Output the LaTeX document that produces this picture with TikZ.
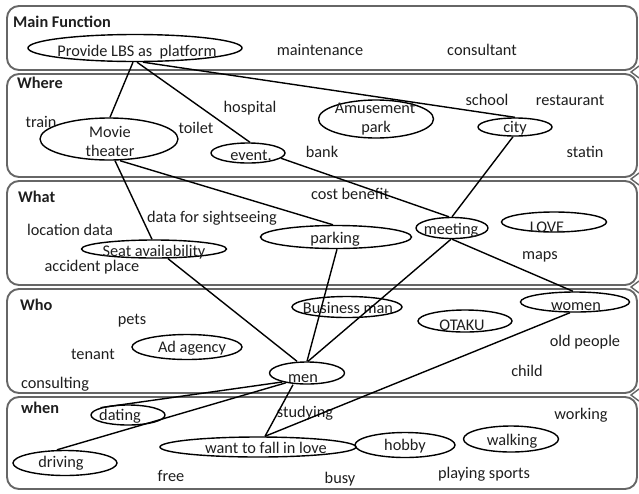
\documentclass[tikz,border=0pt]{standalone}
\usepackage{fontspec}
\setmainfont{Carlito}
\usetikzlibrary{shapes.geometric}
\definecolor{ink}{HTML}{1E1E1E}
\definecolor{frame}{HTML}{666666}

\begin{document}
\begin{tikzpicture}[x=1pt,y=-1pt,
  every node/.style={font=\fontsize{16.3}{19}\selectfont, text=ink},
  word/.style={inner sep=0pt, text height=10pt, text depth=2pt},
  head/.style={word, font=\fontsize{16.3}{19}\selectfont\bfseries, anchor=west},
  oval/.style 2 args={draw=black, ellipse, line width=1.4pt, inner sep=0pt,
    minimum width=#1, minimum height=#2},
  link/.style={line width=1.4pt, draw=black},
  panel/.style={draw=frame, line width=1.9pt, rounded corners=12pt},
  notch/.style={draw=frame, line width=1.4pt}]

\useasboundingbox (0,0) rectangle (639,493);

% five stacked category panels
\draw[panel] (7,6)   rectangle (637,70);
\draw[panel] (7,74)  rectangle (637,177);
\draw[panel] (7,181) rectangle (637,285);
\draw[panel] (7,289) rectangle (637,393);
\draw[panel] (7,397) rectangle (637,489);
\foreach \j in {72,179,287,395}
  \draw[notch] (639,\j-6) -- (631,\j) -- (639,\j+6);

% panel headings
\node[head] (hmain) at (13,23)  {Main Function};
\node[head] (hwhere) at (17,84) {Where};
\node[head] (hwhat) at (18,198) {What};
\node[head] (hwho) at (20,306)  {Who};
\node[head] (hwhen) at (21,409) {when};

% ellipses
\node[oval={214pt}{27pt}] (lbs) at (135,48) {};
\node[oval={138pt}{42pt}] (movie) at (109,139) {};
\node[oval={74pt}{20pt}] (event) at (248,153) {};
\node[oval={115pt}{38pt}] (amuse) at (376,119) {};
\node[oval={74pt}{18pt}] (city) at (515,127) {};
\node[oval={145pt}{18pt}] (seat) at (154,249) {};
\node[oval={151pt}{23pt}] (parking) at (336,237) {};
\node[oval={72pt}{21pt}] (meeting) at (452,228) {};
\node[oval={105pt}{20pt}] (love) at (554,222) {};
\node[oval={110pt}{21pt}] (business) at (347,307) {};
\node[oval={94pt}{22pt}] (otaku) at (465,321) {};
\node[oval={109pt}{20pt}] (women) at (575,302) {};
\node[oval={110pt}{25pt}] (adagency) at (187,347) {};
\node[oval={75pt}{22pt}] (men) at (307,373) {};
\node[oval={74pt}{20pt}] (dating) at (128,415) {};
\node[oval={196pt}{20pt}] (wantlove) at (258,447) {};
\node[oval={100pt}{25pt}] (hobby) at (405,445) {};
\node[oval={95pt}{26pt}] (walking) at (511,439) {};
\node[oval={104pt}{25pt}] (driving) at (65,463) {};

% ellipse captions
\node[word] (tlbs) at (137,52) {Provide LBS as\ \ platform};
\node[word] (tmovie1) at (110,133) {Movie};
\node[word] (tmovie2) at (110,152) {theater};
\node[word] (tevent) at (251,156) {event.};
\node[word] (tamuse1) at (375,109) {Amusement};
\node[word] (tamuse2) at (376,128) {park};
\node[word] (tcity) at (515,128) {city};
\node[word] (tseat) at (154,252) {Seat availability};
\node[word] (tparking) at (335,239) {parking};
\node[word] (tmeeting) at (451,230) {meeting};
\node[word] (tlove) at (547,228) {LOVE};
\node[word] (tbusiness) at (348,309) {Business man};
\node[word] (totaku) at (462,326) {OTAKU};
\node[word] (twomen) at (576,306) {women};
\node[word] (tadagency) at (192,348) {Ad agency};
\node[word] (tmen) at (303,378) {men};
\node[word] (tdating) at (120,416) {dating};
\node[word] (twantlove) at (266,449) {want to fall in love};
\node[word] (thobby) at (405,446) {hobby};
\node[word] (twalking) at (512,441) {walking};
\node[word] (tdriving) at (61,463) {driving};

% free-standing words
\node[word] (maintenance) at (320,51) {maintenance};
\node[word] (consultant) at (482,51) {consultant};
\node[word] (train) at (41,123) {train};
\node[word] (toilet) at (196,129) {toilet};
\node[word] (hospital) at (250,108) {hospital};
\node[word] (bank) at (322,153) {bank};
\node[word] (school) at (487,101) {school};
\node[word] (restaurant) at (570,101) {restaurant};
\node[word] (statin) at (585,153) {statin};
\node[word] (costbenefit) at (350,195) {cost benefit};
\node[word] (sightseeing) at (212,218) {data for sightseeing};
\node[word] (locdata) at (70,231) {location data};
\node[word] (accident) at (92,267) {accident place};
\node[word] (maps) at (540,255) {maps};
\node[word] (pets) at (132,320) {pets};
\node[word] (tenant) at (93,355) {tenant};
\node[word] (consulting) at (55,384) {consulting};
\node[word] (oldpeople) at (585,342) {old people};
\node[word] (child) at (527,372) {child};
\node[word] (studying) at (305,413) {studying};
\node[word] (working) at (581,415) {working};
\node[word] (free) at (171,477) {free};
\node[word] (busy) at (340,479) {busy};
\node[word] (sports) at (484,474) {playing sports};

% connectors
\draw[link] ([xshift=-2pt]lbs.south) -- ([xshift=1pt]movie.north);
\draw[link] ([xshift=2pt]lbs.south) -- ([xshift=2pt]event.north);
\draw[link] ([xshift=8pt]lbs.south) -- (city.north);
\draw[link] ([xshift=6pt]movie.south) -- ([xshift=-2pt]seat.north);
\draw[link] ([xshift=11pt]movie.south) -- ([xshift=-3pt]parking.north);
\draw[link] (event.-9) -- ([xshift=-3pt]meeting.north);
\draw[link] ([xshift=-2pt]city.south) -- (meeting.north);
\draw[link] ([xshift=-1pt]meeting.south) -- ([xshift=1pt]men.north);
\draw[link] (meeting.south) -- ([xshift=-2pt]women.north);
\draw[link] ([xshift=14pt]seat.south) -- ([xshift=-10pt]men.north);
\draw[link] ([xshift=1pt]parking.south) -- (men.north);
\draw[link] (men.200) -- (dating.165);
\draw[link] (men.205) -- ([xshift=-8pt]driving.north);
\draw[link] ([xshift=-14pt]men.south) -- ([xshift=7pt]wantlove.north);
\draw[link] ([xshift=7pt]wantlove.north) -- ([xshift=-5pt]women.south);

\end{tikzpicture}
\end{document}
